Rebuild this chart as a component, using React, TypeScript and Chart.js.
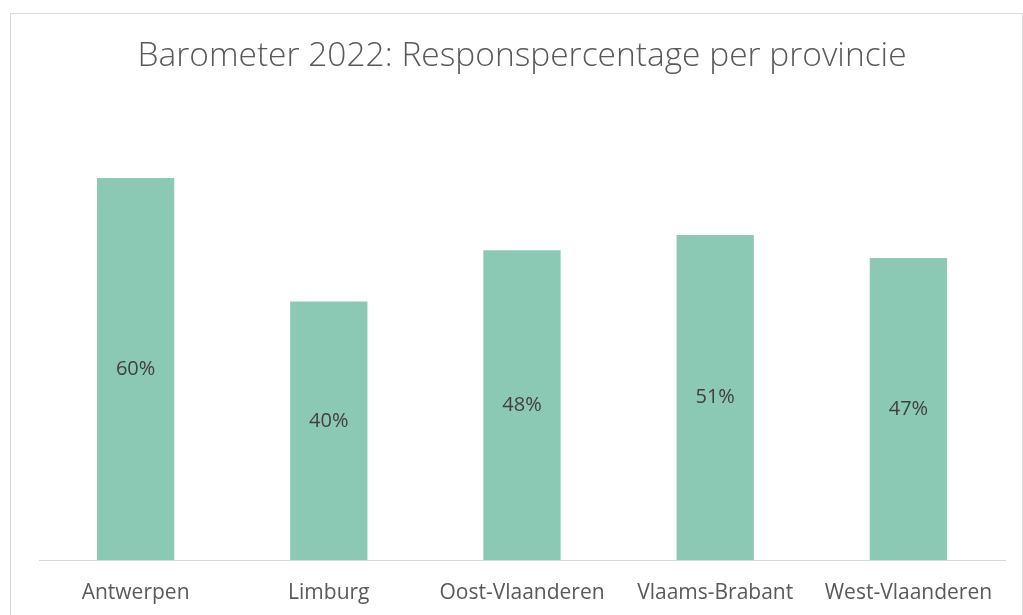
import React, { useEffect, useRef } from "react";
import { Chart, registerables } from "chart.js";

Chart.register(...registerables);

const TITLE = "Barometer 2022: Responspercentage per provincie";
const categories = ["Antwerpen", "Limburg", "Oost-Vlaanderen", "Vlaams-Brabant", "West-Vlaanderen"];
const responseValues = [59.6, 40.3, 48.3, 50.7, 47.1];
const Y_MAX = 70;

const FONT = "'Open Sans', 'Noto Sans', sans-serif";

const framePlugin = {
  id: "frame",
  beforeDraw(chart: any) {
    const ctx = chart.ctx;
    ctx.save();
    ctx.fillStyle = "#ffffff";
    ctx.fillRect(0, 0, chart.width, chart.height);
    ctx.strokeStyle = "#d9d9d9";
    ctx.lineWidth = 1;
    ctx.strokeRect(10.5, 13.5, 1012, 700);
    ctx.restore();
  },
};

const valueLabelPlugin = {
  id: "valueLabels",
  afterDatasetsDraw(chart: any, _args: any, opts: any) {
    const ctx = chart.ctx;
    const meta = chart.getDatasetMeta(0);
    const data = chart.data.datasets[0].data as number[];
    const shifts: Record<number, number> = (opts && opts.shifts) || {};
    ctx.save();
    ctx.fillStyle = "#404040";
    ctx.font = `20px ${FONT}`;
    ctx.textAlign = "center";
    ctx.textBaseline = "middle";
    meta.data.forEach((bar: any, i: number) => {
      const y = (bar.y + bar.base) / 2 + (shifts[i] || 0);
      ctx.fillText(Math.round(data[i]) + "%", bar.x, y);
    });
    ctx.restore();
  },
};

export default function App() {
  const ref = useRef<HTMLCanvasElement>(null);
  useEffect(() => {
    if (!ref.current) return;
    const chart = new Chart(ref.current, {
      type: "bar",
      data: {
        labels: categories,
        datasets: [
          {
            data: responseValues,
            backgroundColor: "#8bc9b5",
            borderWidth: 0,
            barPercentage: 1,
            categoryPercentage: 0.4,
          },
        ],
      },
      options: {
        animation: false,
        responsive: false,
        devicePixelRatio: 1,
        layout: { padding: { left: 39, right: 18, top: 0, bottom: 11 } },
        plugins: {
          legend: { display: false },
          tooltip: { enabled: false },
          title: {
            display: true,
            text: TITLE,
            color: "#595959",
            font: { family: FONT, size: 33.5, weight: 300 as any },
            padding: { top: 36, bottom: 35 },
          },
          valueLabels: { shifts: { 1: -10 } },
        } as any,
        scales: {
          x: {
            grid: { display: false, drawTicks: false },
            border: { display: true, color: "#d9d9d9", width: 1 },
            ticks: {
              color: "#595959",
              font: { family: FONT, size: 21 },
              padding: 20,
              maxRotation: 0,
              autoSkip: false,
            },
            afterFit: (scale: any) => {
              scale.height = 44;
            },
          },
          y: {
            display: false,
            min: 0,
            max: Y_MAX,
          },
        },
      },
      plugins: [framePlugin, valueLabelPlugin],
    });
    return () => chart.destroy();
  }, []);
  return (
    <div style={{ position: "fixed", left: 0, top: 0, width: 1023, height: 615, overflow: "hidden" }}>
      <canvas ref={ref} width={1023} height={615} style={{ display: "block" }} />
    </div>
  );
}
